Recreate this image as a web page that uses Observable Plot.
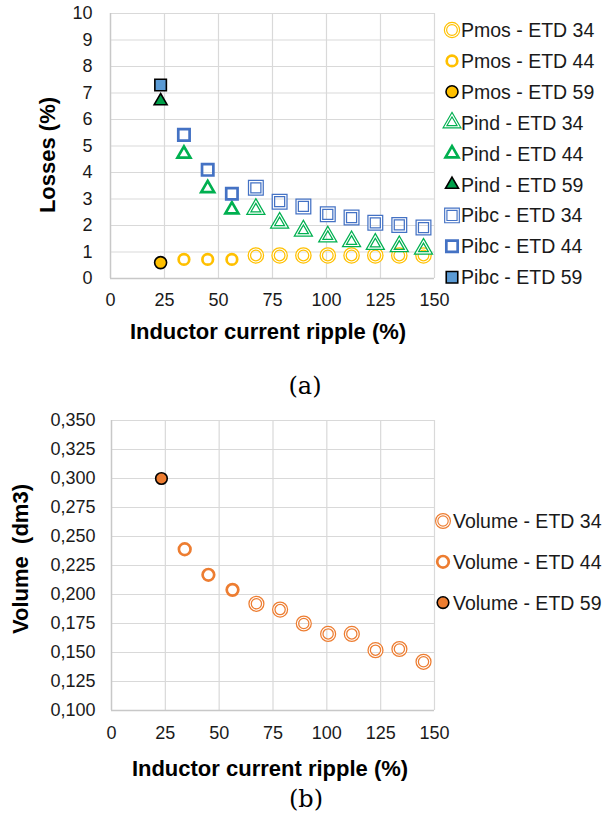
<!DOCTYPE html>
<html><head><meta charset="utf-8">
<script src="https://cdn.jsdelivr.net/npm/d3@7"></script>
<script src="https://cdn.jsdelivr.net/npm/@observablehq/plot@0.6"></script>
<style>
body{margin:0;background:#fff;}
#root{width:605px;}
#root svg{display:block;}
</style></head><body><div id="root"></div>
<script>
// ---- data ----
const ripple = [23.2, 34, 45, 56.2, 67.3, 78.3, 89.3, 100.6, 111.6, 122.6, 133.7, 144.9];
const core   = ["ETD 59","ETD 44","ETD 44","ETD 44","ETD 34","ETD 34","ETD 34","ETD 34","ETD 34","ETD 34","ETD 34","ETD 34"];
const pmos   = [0.6, 0.72, 0.72, 0.72, 0.87, 0.87, 0.87, 0.87, 0.87, 0.87, 0.87, 0.87];
const pind   = [6.7, 4.7, 3.4, 2.6, 2.62, 2.1, 1.8, 1.58, 1.4, 1.3, 1.21, 1.12];
const pibc   = [7.3, 5.42, 4.1, 3.2, 3.42, 2.9, 2.72, 2.42, 2.3, 2.1, 2.02, 1.92];
const volume = [0.300, 0.239, 0.217, 0.204, 0.192, 0.187, 0.175, 0.166, 0.166, 0.152, 0.153, 0.142];
const xTicks   = [0, 25, 50, 75, 100, 125, 150];
const lossTicks = [0,1,2,3,4,5,6,7,8,9,10];
const volTicks  = [0.100,0.125,0.150,0.175,0.200,0.225,0.250,0.275,0.300,0.325,0.350];
const coreOrder = ["ETD 34","ETD 44","ETD 59"];
const lossSeries = ["Pmos","Pind","Pibc"];
const xTitle = "Inductor current ripple (%)";
const lossTitle = "Losses (%)";
const volTitle = "Volume  (dm3)";

// ---- styles ----
const styles = {
  Pmos:   {symbol:"circle",   color:"#FFC000", fill59:"#FFC000", r:{"ETD 34":6.5,"ETD 44":5.3,"ETD 59":6}},
  Pind:   {symbol:"triangle", color:"#00B050", fill59:"#00A04A", r:{"ETD 34":5.2,"ETD 44":4.8,"ETD 59":4.8}},
  Pibc:   {symbol:"square",   color:"#4472C4", fill59:"#5B9BD5", r:{"ETD 34":7.0,"ETD 44":6.4,"ETD 59":6.5}},
  Volume: {symbol:"circle",   color:"#ED7D31", fill59:"#ED7D31", r:{"ETD 34":6.3,"ETD 44":5.8,"ETD 59":5.8}}
};
const FONT = "'Liberation Sans', Arial, sans-serif";
const gridColor = "#d9d9d9";

function seriesMarks(values, st) {
  const rows = ripple.map((x, i) => ({x, y: values[i], core: core[i]}));
  const r34 = rows.filter(d => d.core === "ETD 34");
  const r44 = rows.filter(d => d.core === "ETD 44");
  const r59 = rows.filter(d => d.core === "ETD 59");
  return [
    Plot.dot(r34, {x:"x", y:"y", symbol: st.symbol, r: st.r["ETD 34"], fill:"none", stroke: st.color, strokeWidth: 3.6}),
    Plot.dot(r34, {x:"x", y:"y", symbol: st.symbol, r: st.r["ETD 34"], fill:"none", stroke: "#ffffff", strokeWidth: 1.1}),
    Plot.dot(r44, {x:"x", y:"y", symbol: st.symbol, r: st.r["ETD 44"], fill:"none", stroke: st.color, strokeWidth: 2.7}),
    Plot.dot(r59, {x:"x", y:"y", symbol: st.symbol, r: st.r["ETD 59"], fill: st.fill59, stroke: "#000", strokeWidth: 1.6})
  ];
}

const symMap = {circle: d3.symbolCircle, triangle: d3.symbolTriangle, square: d3.symbolSquare};
function legendItem(g, st, c, x, y, label, tx) {
  const r = st.r[c];
  const path = d3.symbol(symMap[st.symbol], Math.PI * r * r)();
  const sel = g.append("g").attr("transform", `translate(${x},${y})`);
  if (c === "ETD 34") {
    sel.append("path").attr("d", path).attr("fill","none").attr("stroke", st.color).attr("stroke-width", 3.4);
    sel.append("path").attr("d", path).attr("fill","none").attr("stroke", "#fff").attr("stroke-width", 1.1);
  } else if (c === "ETD 44") {
    sel.append("path").attr("d", path).attr("fill","none").attr("stroke", st.color).attr("stroke-width", 2.7);
  } else {
    sel.append("path").attr("d", path).attr("fill", st.fill59).attr("stroke", "#000").attr("stroke-width", 1.6);
  }
  g.append("text").attr("x", tx).attr("y", y).attr("dy","0.36em")
    .attr("text-anchor", "start")
    .attr("font-family", FONT).attr("font-size", 19.5).attr("fill","#1a1a1a").text(label);
}

function addText(svg, txt, x, y, opts = {}) {
  const t = d3.select(svg).append("text")
    .attr("x", x).attr("y", y).attr("dy", "0.36em")
    .attr("text-anchor", "middle")
    .attr("font-family", opts.family || FONT)
    .attr("font-size", opts.size || 22)
    .attr("font-weight", opts.weight || "bold")
    .attr("fill", "#000")
    .style("white-space", "pre")
    .text(txt);
  if (opts.rotate) t.attr("transform", `rotate(-90 ${x} ${y})`);
  return t;
}

// ---- chart (a) ----
const chartA = Plot.plot({
  width: 605, height: 400,
  marginTop: 13, marginLeft: 110, marginRight: 171, marginBottom: 122,
  style: {fontFamily: FONT, fontSize: "18px", color: "#1a1a1a", background: "#fff", overflow: "visible"},
  x: {domain: [0, 150]},
  y: {domain: [0, 10]},
  marks: [
    Plot.gridX(xTicks, {stroke: gridColor, strokeOpacity: 1, strokeWidth: 1.2}),
    Plot.gridY(lossTicks, {stroke: gridColor, strokeOpacity: 1, strokeWidth: 1.2}),
    Plot.ruleX([0], {stroke: "#c8c8c8", strokeWidth: 1.4}),
    Plot.ruleY([0], {stroke: "#c8c8c8", strokeWidth: 1.4}),
    Plot.axisX(xTicks, {tickSize: 0, tickPadding: 15, fontSize: 18, label: null}),
    Plot.axisY(lossTicks, {tickSize: 0, tickPadding: 18, fontSize: 18, label: null}),
    ...seriesMarks(pmos, styles.Pmos),
    ...seriesMarks(pind, styles.Pind),
    ...seriesMarks(pibc, styles.Pibc)
  ]
});
addText(chartA, xTitle, 268, 331);
addText(chartA, lossTitle, 47, 155, {rotate: true});
addText(chartA, "(a)", 305, 385, {family: "'DejaVu Serif', serif", size: 24, weight: "normal"});
{
  const g = d3.select(chartA).append("g");
  let k = 0;
  for (const s of lossSeries) for (const c of coreOrder) {
    legendItem(g, styles[s], c, 452, 30 + k * 30.9, `${s} - ${c}`, 461);
    k++;
  }
}

// ---- chart (b) ----
const commaFmt = d => d3.format(".3f")(d).replace(".", ",");
const chartB = Plot.plot({
  width: 605, height: 418,
  marginTop: 20, marginLeft: 111, marginRight: 171, marginBottom: 108,
  style: {fontFamily: FONT, fontSize: "18px", color: "#1a1a1a", background: "#fff", overflow: "visible"},
  x: {domain: [0, 150]},
  y: {domain: [0.1, 0.35]},
  marks: [
    Plot.gridX(xTicks, {stroke: gridColor, strokeOpacity: 1, strokeWidth: 1.2}),
    Plot.gridY(volTicks, {stroke: gridColor, strokeOpacity: 1, strokeWidth: 1.2}),
    Plot.ruleX([0], {stroke: "#c8c8c8", strokeWidth: 1.4}),
    Plot.ruleY([0.1], {stroke: "#c8c8c8", strokeWidth: 1.4}),
    Plot.axisX(xTicks, {tickSize: 0, tickPadding: 16, fontSize: 18, label: null}),
    Plot.axisY(volTicks, {tickSize: 0, tickPadding: 16, fontSize: 18, label: null, tickFormat: commaFmt}),
    ...seriesMarks(volume, styles.Volume)
  ]
});
addText(chartB, xTitle, 270, 368);
addText(chartB, volTitle, 20, 159, {rotate: true});
addText(chartB, "(b)", 306, 398, {family: "'DejaVu Serif', serif", size: 24, weight: "normal"});
{
  const g = d3.select(chartB).append("g");
  coreOrder.forEach((c, k) => {
    legendItem(g, styles.Volume, c, 443, 121 + k * 40.8, `Volume - ${c}`, 453);
  });
}

document.getElementById("root").append(chartA, chartB);
</script>
</body></html>
